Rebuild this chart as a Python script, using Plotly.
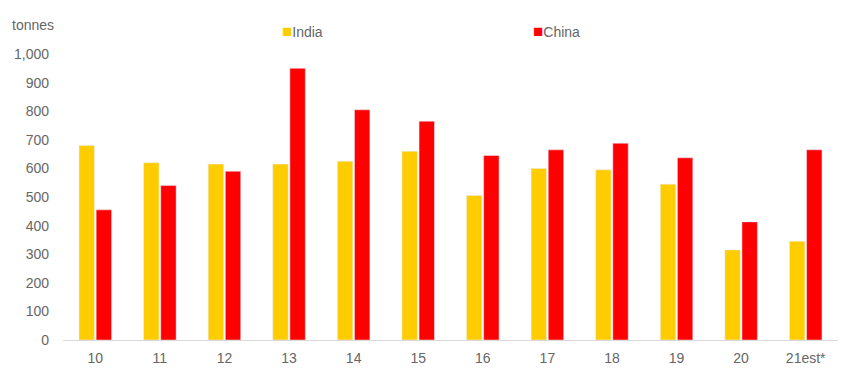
import plotly.graph_objects as go

categories = ["10", "11", "12", "13", "14", "15", "16", "17", "18", "19", "20", "21est*"]
india = [680, 620, 615, 615, 625, 660, 505, 600, 595, 545, 315, 345]
china = [455, 540, 590, 950, 805, 765, 645, 665, 688, 637, 413, 665]
y_ticks = [0, 100, 200, 300, 400, 500, 600, 700, 800, 900, 1000]
y_tick_labels = ["0", "100", "200", "300", "400", "500", "600", "700", "800", "900", "1,000"]
series_names = ["India", "China"]
series_colors = ["#FFCC00", "#FF0000"]

fig = go.Figure()
fig.add_trace(go.Bar(name=series_names[0], x=categories, y=india, marker_color=series_colors[0]))
fig.add_trace(go.Bar(name=series_names[1], x=categories, y=china, marker_color=series_colors[1]))

txt = dict(family="Liberation Sans, Arial, sans-serif", size=14, color="#666666")

legend_x = [280, 531]
annotations = [dict(text="tonnes", xref="paper", yref="paper", x=(10 - 63) / 775, y=1 + 29 / 286,
                    xanchor="left", yanchor="middle", showarrow=False, font=txt)]
for name, col, lx in zip(series_names, series_colors, legend_x):
    annotations.append(dict(
        text=f"<span style='color:{col};font-size:17px'>■</span>{name}",
        xref="paper", yref="paper", x=(lx - 63) / 775, y=1 + 23 / 286,
        xanchor="left", yanchor="middle", showarrow=False, font=txt))

fig.update_layout(
    width=866, height=383,
    margin=dict(l=63, r=28, t=54, b=43),
    paper_bgcolor="white", plot_bgcolor="white",
    barmode="group", bargap=0.47, bargroupgap=0.1,
    font=txt,
    showlegend=False,
    xaxis=dict(showline=True, linecolor="#D9D9D9", linewidth=1, ticks="", showgrid=False,
               automargin=False, ticklabelstandoff=5, tickfont=txt),
    yaxis=dict(range=[0, 1000], tickvals=y_ticks, ticktext=y_tick_labels, showgrid=False,
               zeroline=False, showline=False, ticks="", ticklabelstandoff=13,
               automargin=False, tickfont=txt),
    annotations=annotations,
)

fig.write_html("out.html", config={"displayModeBar": False},
               post_script="document.body.style.margin='0';document.body.style.padding='0';")
